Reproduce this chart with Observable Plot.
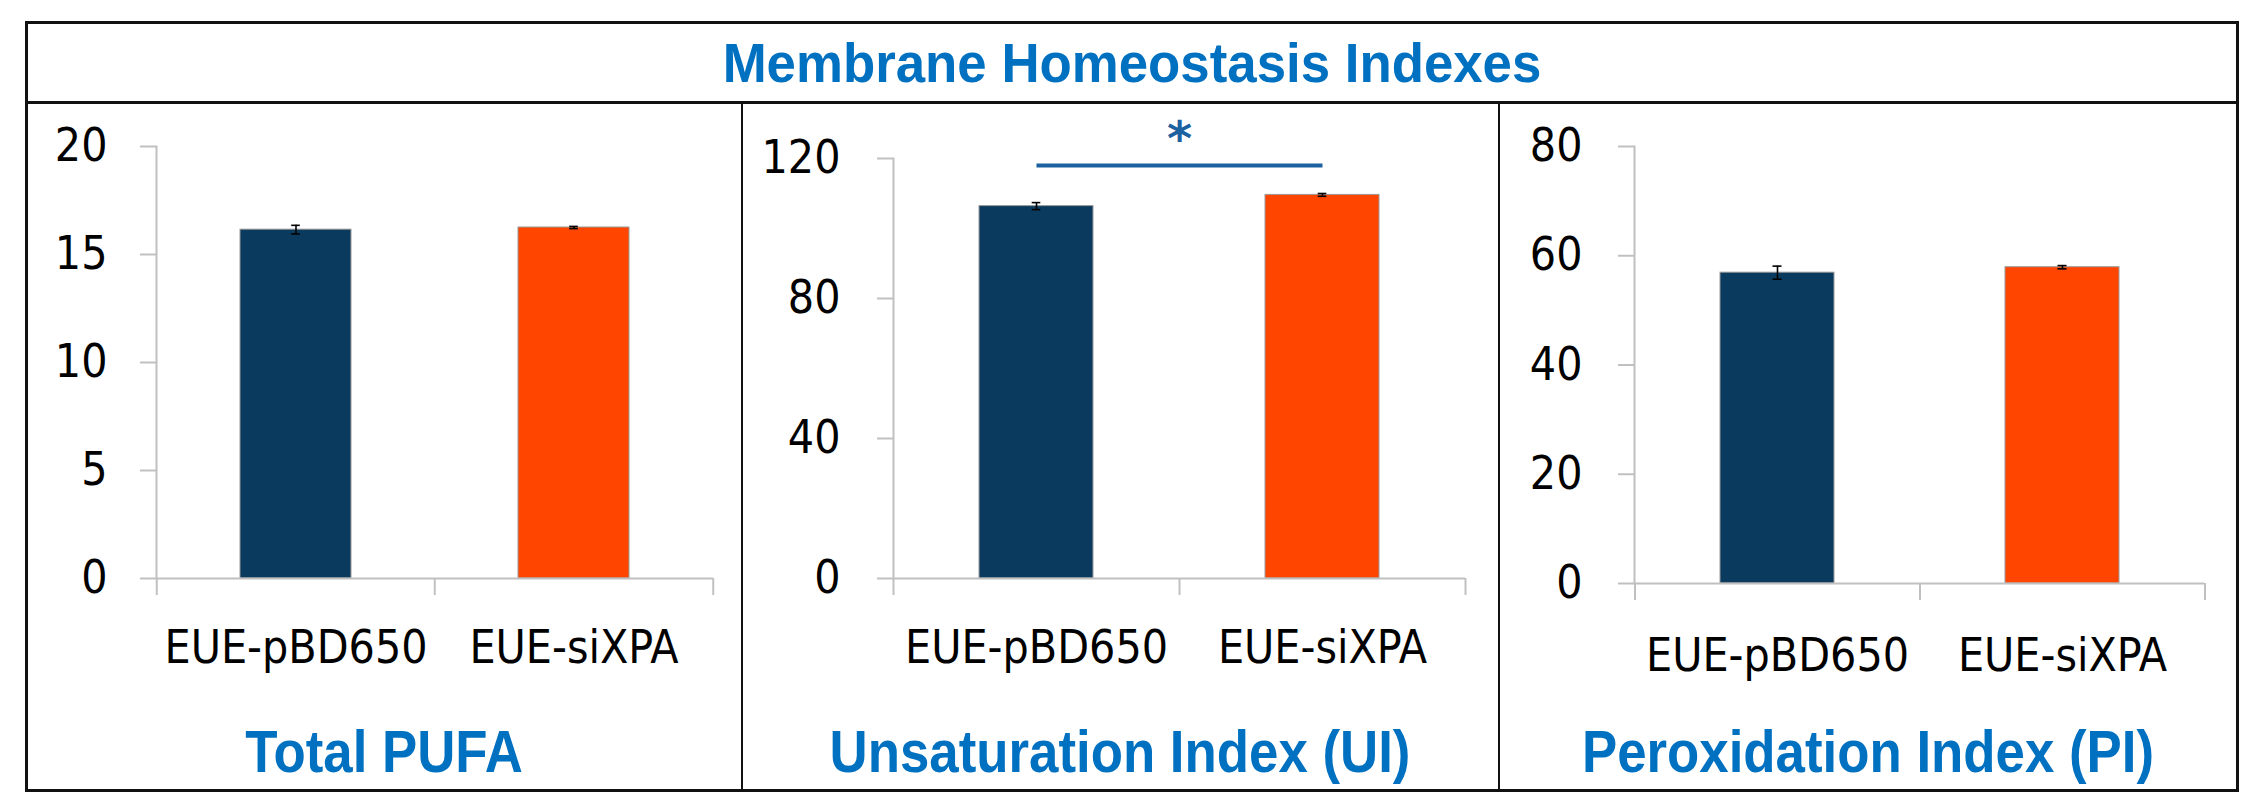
<!DOCTYPE html>
<html>
<head>
<meta charset="utf-8">
<script src="https://cdn.jsdelivr.net/npm/d3@7"></script>
<script src="https://cdn.jsdelivr.net/npm/@observablehq/plot@0.6"></script>
<style>
  html, body { margin: 0; padding: 0; background: #fff; }
  #fig { position: relative; width: 2260px; height: 808px; overflow: hidden; background: #fff; }
  .abs { position: absolute; }
  .ttl { font-family: "Liberation Sans", Arial, sans-serif; font-weight: bold; color: #0070c0; font-size: 60px; line-height: 60px; text-align: center; white-space: nowrap; transform: scaleX(0.88); transform-origin: center center; }
  .main { font-size: 55px; line-height: 55px; transform: scaleX(0.96); }
</style>
</head>
<body>
<div id="fig"></div>
<script>
// ---- data ----
const categories = ["EUE-pBD650", "EUE-siXPA"];
const figureTitle = "Membrane Homeostasis Indexes";
const panelTitles = ["Total PUFA", "Unsaturation Index (UI)", "Peroxidation Index (PI)"];
const pufaValues = [16.15, 16.25];
const pufaErrors = [0.2, 0.05];
const uiValues = [106.4, 109.6];
const uiErrors = [1.0, 0.4];
const piValues = [56.9, 57.9];
const piErrors = [1.2, 0.3];
const pufaTicks = [0, 5, 10, 15, 20];
const uiTicks = [0, 40, 80, 120];
const piTicks = [0, 20, 40, 60, 80];
const uiSignificance = [{from: "EUE-pBD650", to: "EUE-siXPA", y: 118, label: "*"}];
const barColors = ["#0a3b5e", "#ff4500"];

const fig = document.getElementById("fig");
function addDiv(cls, css, text) {
  const d = document.createElement("div");
  d.className = cls;
  Object.assign(d.style, css);
  if (text) d.textContent = text;
  fig.appendChild(d);
  return d;
}

const labelFont = "'DejaVu Sans Condensed', 'Liberation Sans', sans-serif";
const axisGray = "#c0c0c0";

function panel(cfg) {
  const {values, errors, ticks, left, width, top, height, ml, mr, mt, mb, yPad, xPad, sig} = cfg;
  const data = categories.map((c, i) => ({cat: c, v: values[i], e: errors[i]}));
  const plotW = width - ml - mr;
  const step = plotW / categories.length;
  const bw = step * 0.4;
  const capInset = (bw - 9) / 2;
  const yMax = ticks[ticks.length - 1];
  const marks = [
    Plot.barY(data, {x: "cat", y: "v", fill: "cat", stroke: "#9a9a9a", strokeWidth: 1}),
    Plot.ruleX(data, {x: "cat", y1: d => d.v - d.e, y2: d => d.v + d.e, stroke: "#000", strokeWidth: 1.6}),
    Plot.tickY(data, {x: "cat", y: d => d.v - d.e, stroke: "#000", strokeWidth: 1.6, inset: capInset}),
    Plot.tickY(data, {x: "cat", y: d => d.v + d.e, stroke: "#000", strokeWidth: 1.6, inset: capInset}),
    Plot.ruleY([0], {stroke: axisGray, strokeWidth: 2}),
    Plot.frame({anchor: "left", stroke: axisGray, strokeWidth: 2}),
    Plot.axisY({ticks, label: null, tickSize: 16, tickPadding: yPad, stroke: axisGray, strokeWidth: 2, fill: "#000", fontSize: 46, fontFamily: labelFont, tickFormat: d => String(d)}),
    Plot.axisX({ticks: categories, label: null, tickSize: 17, dx: -step / 2, stroke: axisGray, strokeWidth: 2, tickFormat: () => ""}),
    Plot.axisX({ticks: [categories[categories.length - 1]], label: null, tickSize: 17, dx: step / 2, stroke: axisGray, strokeWidth: 2, tickFormat: () => ""}),
    Plot.axisX({ticks: categories, label: null, tickSize: 0, tickPadding: xPad, fill: "#000", fontSize: 46, fontFamily: labelFont})
  ];
  if (sig) {
    marks.push(Plot.link(sig, {x1: "from", x2: "to", y1: "y", y2: "y", stroke: "#1c62a0", strokeWidth: 4}));
    marks.push(Plot.text(sig, {x: "from", dx: step / 2, y: "y", dy: -26, text: "label", fill: "#1c62a0", fontSize: 48, fontFamily: "'DejaVu Sans', sans-serif", fontWeight: "bold"}));
  }
  const chart = Plot.plot({
    width, height,
    marginLeft: ml, marginRight: mr, marginTop: mt, marginBottom: mb,
    x: {domain: categories, paddingInner: 0.6, paddingOuter: 0.3, axis: null},
    y: {domain: [0, yMax], axis: null},
    color: {domain: categories, range: barColors},
    style: {fontFamily: labelFont, background: "transparent", overflow: "visible"},
    marks
  });
  chart.style.position = "absolute";
  chart.style.left = left + "px";
  chart.style.top = top + "px";
  fig.appendChild(chart);
}

panel({values: pufaValues, errors: pufaErrors, ticks: pufaTicks, left: 27, width: 715, top: 104, height: 600, ml: 129, mr: 29, mt: 42, mb: 126, yPad: 33, xPad: 52});
panel({values: uiValues, errors: uiErrors, ticks: uiTicks, left: 743, width: 756, top: 104, height: 600, ml: 150, mr: 34, mt: 54, mb: 126, yPad: 37, xPad: 52, sig: uiSignificance});
panel({values: piValues, errors: piErrors, ticks: piTicks, left: 1500, width: 741, top: 104, height: 600, ml: 134, mr: 37, mt: 42, mb: 121, yPad: 36, xPad: 55});

// frame lines
addDiv("abs", {left: "25px", top: "21px", width: "2214px", height: "771px", border: "3px solid #111", boxSizing: "border-box"});
addDiv("abs", {left: "26px", top: "101px", width: "2212px", height: "3px", background: "#111"});
addDiv("abs", {left: "741px", top: "102px", width: "2px", height: "689px", background: "#111"});
addDiv("abs", {left: "1498px", top: "102px", width: "2px", height: "689px", background: "#111"});

// titles
addDiv("abs ttl main", {left: "26px", width: "2212px", top: "36px"}, figureTitle);
const centers = [384, 1120, 1868];
panelTitles.forEach((t, i) => {
  addDiv("abs ttl", {left: (centers[i] - 400) + "px", width: "800px", top: "722px"}, t);
});
</script>
</body>
</html>
